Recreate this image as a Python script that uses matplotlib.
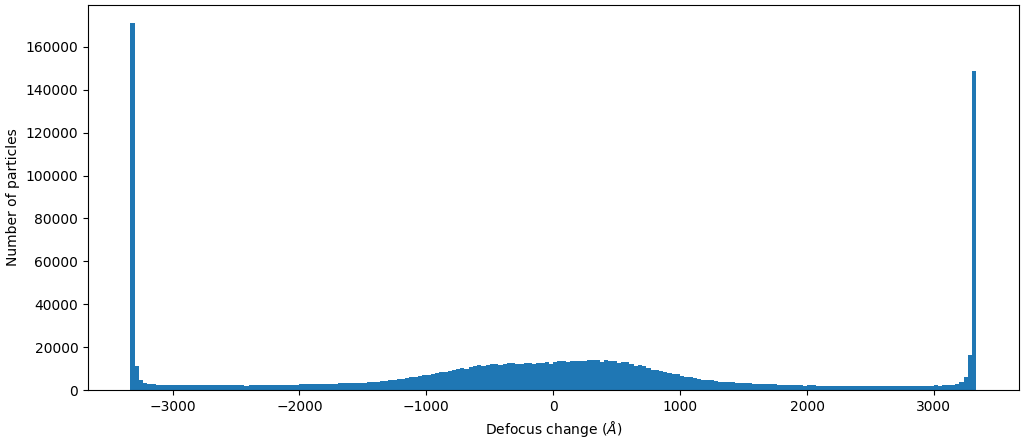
import numpy as np
import matplotlib
matplotlib.use("Agg")
import matplotlib.pyplot as plt

# Histogram settings (200 bins spanning the defocus-change range)
range_min = -3333.3
range_max = 3333.3
n_bins = 200

# Counts per bin (index 0 .. 199)
counts = (
    [171000, 11200, 4700, 3300, 2800, 2800]
    + [2300] * 21            # k 6-26
    + [1900]                 # k 27
    + [2300] * 12            # k 28-39
    + [2800] * 9             # k 40-48
    + [3300] * 7             # k 49-55
    + [3700] * 3             # k 56-58
    + [4200] * 2             # k 59-60
    + [4700] * 2             # k 61-62
    + [5100] * 2             # k 63-64
    + [5600]                 # k 65
    + [6100] * 2             # k 66-67
    + [6500]                 # k 68
    + [7000] * 2             # k 69-70
    + [7500, 7900, 8400, 8400, 8900, 9300, 9800, 10300, 9800,   # k 71-79
       10700, 11200, 11700, 11200, 11700, 12100, 12100, 11700,  # k 80-87
       12100, 12600, 12600, 12100, 12100, 12600, 12600, 12100,  # k 88-95
       12600, 12600, 13100, 12100, 13100, 13500, 13500, 13100,  # k 96-103
       13500, 13500, 13500, 13500, 14000, 14000, 14000, 13100,  # k 104-111
       14000, 13500, 13500, 12600, 13100, 13100, 12100, 11200,  # k 112-119
       11700, 11200, 10300, 9300, 9300, 8900, 8400, 7900,       # k 120-127
       7500, 7500, 6500, 6100, 6100, 5600, 5100, 4700,          # k 128-135
       4700, 4700, 4200, 3700, 3700, 3700, 3700, 3300,          # k 136-143
       3300, 3300, 3300]                                        # k 144-146
    + [2800] * 6             # k 147-152
    + [2300] * 6             # k 153-158
    + [1900]                 # k 159
    + [2300] * 2             # k 160-161
    + [1900] * 28            # k 162-189
    + [2300, 1900, 2300, 2300, 2300, 2800, 3700, 6100, 16300, 149000]  # k 190-199
)

edges = np.linspace(range_min, range_max, n_bins + 1)
centers = 0.5 * (edges[:-1] + edges[1:])

fig = plt.figure(figsize=(10.22, 4.44), dpi=100)
ax = fig.add_axes([0.0861, 0.1216, 0.9105, 0.8671])
ax.hist(centers, bins=edges, weights=counts, color="#1f77b4")
ax.set_xlabel(r"Defocus change ($\AA$)")
ax.set_ylabel("Number of particles")
ax.set_yticks(np.arange(0, 160001, 20000))
fig.savefig("out.png", dpi=100)
